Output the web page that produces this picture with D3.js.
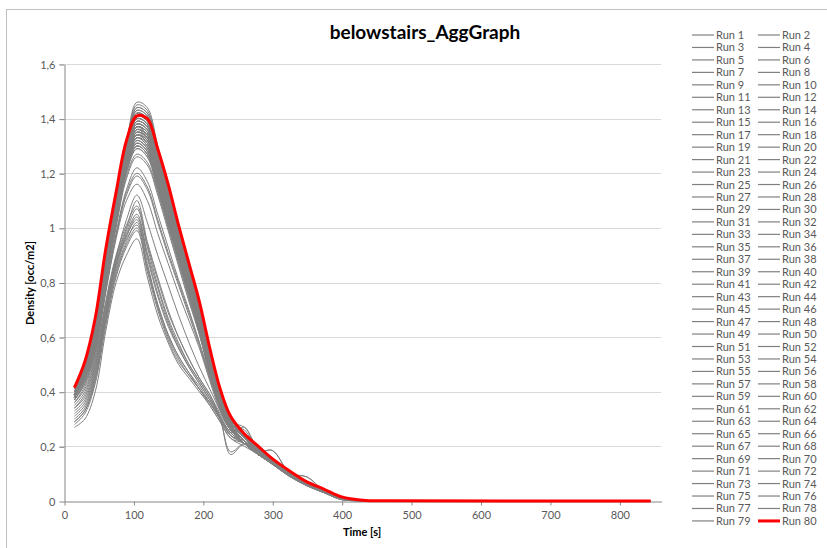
<!DOCTYPE html>
<html>
<head>
<meta charset="utf-8">
<script src="https://cdn.jsdelivr.net/npm/d3@7/dist/d3.min.js"></script>
<style>
html,body{margin:0;padding:0;background:#fff;}
svg{display:block;}
text{font-family:Lato,"Open Sans",sans-serif;}
</style>
</head>
<body>
<svg id="chart" width="827" height="548"></svg>
<script>
// ---- data ----
const chartTitle = "belowstairs_AggGraph";
const xTitle = "Time [s]";
const yTitle = "Density [occ/m2]";
const xTicks = [0,100,200,300,400,500,600,700,800];
const yTicks = [0,0.2,0.4,0.6,0.8,1,1.2,1.4,1.6];
const yTickLabels = ["0","0,2","0,4","0,6","0,8","1","1,2","1,4","1,6"];
const times = [15,30,45,60,75,90,105,120,135,150,165,180,195,210,225,240,260,280,300,325,350,375,400,430,470,845];
const runNames = d3.range(1,81).map(i => "Run " + i);
// Runs 1..79 (gray)
const grayRuns = [
[.40,.48,.62,.86,1.07,1.27,1.38,1.36,1.24,1.10,.96,.82,.68,.52,.38,.29,.23,.19,.15,.10,.066,.038,.010,.002,0,0],
[.39,.47,.60,.84,1.05,1.25,1.36,1.33,1.20,1.07,.93,.79,.66,.50,.37,.28,.22,.18,.15,.10,.064,.036,.009,.002,0,0],
[.41,.49,.63,.88,1.09,1.29,1.41,1.39,1.26,1.12,.98,.84,.70,.53,.39,.30,.24,.19,.155,.105,.068,.040,.012,.002,0,0],
[.38,.46,.58,.82,1.03,1.22,1.32,1.29,1.17,1.04,.90,.77,.64,.49,.36,.27,.22,.18,.145,.098,.062,.035,.008,.001,0,0],
[.40,.48,.61,.85,1.06,1.26,1.37,1.35,1.22,1.09,.95,.81,.67,.51,.38,.29,.27,.19,.15,.10,.065,.037,.010,.002,0,0],
[.39,.46,.59,.83,1.04,1.24,1.34,1.31,1.19,1.05,.91,.78,.65,.49,.36,.28,.22,.18,.185,.10,.063,.036,.009,.001,0,0],
[.41,.50,.64,.89,1.10,1.30,1.44,1.42,1.28,1.13,.99,.85,.71,.54,.40,.30,.24,.195,.155,.105,.07,.041,.013,.003,0,0],
[.40,.47,.60,.84,1.05,1.24,1.33,1.30,1.18,1.05,.92,.79,.66,.50,.37,.28,.23,.18,.15,.10,.088,.037,.009,.002,0,0],
[.38,.45,.57,.80,1.01,1.20,1.29,1.26,1.14,1.01,.88,.75,.62,.47,.35,.26,.21,.17,.14,.095,.06,.034,.008,.001,0,0],
[.40,.48,.62,.87,1.08,1.28,1.40,1.38,1.25,1.11,.97,.83,.69,.52,.39,.29,.235,.19,.152,.102,.066,.039,.011,.002,0,0],
[.29,.33,.45,.66,.84,.95,1.02,.87,.72,.61,.53,.47,.41,.36,.30,.24,.22,.18,.14,.095,.06,.032,.006,.001,0,0],
[.39,.47,.60,.85,1.06,1.25,1.35,1.33,1.21,1.08,.94,.80,.67,.51,.37,.28,.22,.18,.15,.10,.064,.036,.009,.002,0,0],
[.40,.49,.63,.87,1.08,1.28,1.42,1.40,1.27,1.12,.98,.84,.70,.53,.39,.30,.24,.19,.155,.104,.067,.039,.012,.002,0,0],
[.37,.44,.56,.79,1.00,1.18,1.26,1.23,1.12,.99,.86,.73,.61,.46,.34,.26,.21,.17,.14,.093,.058,.033,.007,.001,0,0],
[.41,.49,.62,.87,1.08,1.28,1.39,1.37,1.24,1.10,.96,.82,.68,.52,.38,.29,.23,.19,.15,.10,.065,.038,.010,.002,0,0],
[.34,.38,.50,.70,.88,.99,1.07,.93,.79,.67,.58,.50,.44,.38,.31,.25,.21,.17,.135,.09,.058,.03,.005,.001,0,0],
[.39,.47,.61,.85,1.06,1.26,1.37,1.34,1.22,1.08,.94,.80,.67,.51,.37,.29,.23,.18,.15,.10,.064,.037,.009,.002,0,0],
[.40,.48,.60,.84,1.05,1.25,1.35,1.33,1.20,1.06,.93,.79,.66,.50,.37,.28,.22,.18,.145,.098,.062,.036,.009,.001,0,0],
[.38,.46,.59,.82,1.03,1.23,1.31,1.28,1.16,1.03,.90,.77,.64,.48,.36,.27,.22,.175,.145,.097,.061,.035,.008,.001,0,0],
[.41,.50,.64,.89,1.10,1.31,1.45,1.43,1.29,1.14,1.00,.85,.71,.54,.40,.30,.24,.195,.158,.106,.069,.041,.013,.003,0,0],
[.27,.30,.40,.62,.80,.90,.96,.82,.68,.58,.50,.45,.40,.35,.29,.23,.20,.17,.135,.09,.055,.03,.005,.001,0,0],
[.40,.48,.62,.86,1.07,1.27,1.38,1.36,1.23,1.09,.95,.81,.68,.52,.38,.29,.23,.19,.15,.10,.065,.037,.010,.002,0,0],
[.39,.46,.59,.83,1.04,1.23,1.33,1.31,1.19,1.06,.92,.78,.65,.49,.36,.28,.22,.18,.145,.098,.062,.035,.009,.001,0,0],
[.40,.48,.61,.86,1.07,1.26,1.37,1.35,1.22,1.08,.94,.80,.67,.51,.38,.29,.23,.185,.15,.10,.064,.037,.010,.002,0,0],
[.38,.45,.58,.81,1.02,1.21,1.30,1.27,1.15,1.02,.89,.76,.63,.48,.35,.27,.21,.17,.14,.095,.06,.034,.008,.001,0,0],
[.37,.43,.55,.77,.97,1.12,1.19,1.14,1.02,.90,.79,.68,.57,.45,.34,.26,.21,.17,.14,.093,.058,.033,.007,.001,0,0],
[.41,.49,.63,.88,1.09,1.29,1.42,1.40,1.26,1.12,.98,.83,.69,.53,.39,.30,.24,.19,.155,.104,.068,.040,.012,.002,0,0],
[.40,.47,.60,.85,1.06,1.25,1.36,1.34,1.21,1.07,.93,.80,.66,.50,.37,.28,.22,.18,.15,.10,.063,.036,.009,.002,0,0],
[.31,.35,.47,.68,.86,.97,1.04,.90,.76,.65,.56,.49,.43,.37,.30,.18,.21,.17,.14,.092,.057,.031,.006,.001,0,0],
[.39,.47,.60,.84,1.05,1.24,1.34,1.32,1.19,1.06,.92,.79,.65,.50,.37,.28,.22,.18,.148,.099,.063,.036,.009,.001,0,0],
[.40,.49,.62,.87,1.08,1.27,1.39,1.37,1.24,1.10,.96,.82,.68,.52,.38,.29,.235,.19,.152,.102,.066,.038,.011,.002,0,0],
[.38,.46,.58,.81,1.02,1.21,1.29,1.26,1.14,1.01,.88,.75,.62,.47,.35,.27,.21,.17,.14,.094,.06,.034,.008,.001,0,0],
[.41,.50,.64,.88,1.09,1.30,1.43,1.41,1.27,1.13,.99,.84,.70,.54,.40,.30,.24,.195,.156,.105,.068,.040,.012,.003,0,0],
[.39,.47,.60,.84,1.05,1.24,1.35,1.32,1.20,1.06,.92,.79,.66,.50,.37,.28,.26,.18,.15,.10,.063,.036,.009,.002,0,0],
[.35,.40,.52,.72,.89,1.00,1.10,.95,.82,.70,.60,.52,.45,.39,.32,.26,.22,.17,.14,.092,.058,.032,.006,.001,0,0],
[.40,.48,.61,.86,1.07,1.27,1.38,1.36,1.23,1.09,.95,.81,.67,.51,.38,.29,.23,.19,.15,.10,.065,.037,.010,.002,0,0],
[.38,.46,.59,.83,1.04,1.23,1.32,1.29,1.17,1.04,.91,.77,.64,.49,.36,.27,.22,.18,.145,.097,.061,.035,.008,.001,0,0],
[.40,.48,.62,.87,1.08,1.28,1.40,1.38,1.25,1.11,.97,.83,.69,.52,.39,.29,.235,.19,.153,.103,.067,.039,.011,.002,0,0],
[.36,.42,.54,.76,.96,1.10,1.16,1.10,.98,.87,.76,.66,.56,.44,.33,.26,.21,.17,.14,.094,.059,.033,.007,.001,0,0],
[.39,.47,.60,.85,1.06,1.25,1.36,1.33,1.21,1.07,.93,.80,.66,.50,.37,.28,.22,.18,.15,.10,.064,.036,.009,.002,0,0],
[.41,.49,.63,.88,1.09,1.29,1.41,1.39,1.26,1.12,.98,.84,.70,.53,.39,.30,.24,.19,.155,.105,.068,.040,.012,.002,0,0],
[.30,.34,.46,.67,.85,.96,1.01,.86,.71,.60,.52,.46,.41,.35,.29,.23,.21,.17,.14,.092,.057,.031,.006,.001,0,0],
[.40,.48,.61,.85,1.06,1.26,1.36,1.34,1.21,1.08,.94,.80,.67,.51,.37,.29,.23,.18,.15,.10,.064,.037,.009,.002,0,0],
[.38,.45,.58,.81,1.02,1.21,1.31,1.28,1.16,1.03,.89,.76,.63,.48,.35,.27,.21,.17,.14,.095,.06,.034,.008,.001,0,0],
[.40,.48,.62,.86,1.07,1.27,1.39,1.37,1.24,1.10,.96,.82,.68,.52,.38,.29,.23,.19,.15,.10,.066,.038,.010,.002,0,0],
[.39,.47,.60,.84,1.05,1.25,1.35,1.33,1.20,1.07,.93,.79,.66,.50,.37,.28,.22,.18,.148,.099,.088,.036,.009,.001,0,0],
[.33,.37,.49,.69,.87,.98,1.05,.91,.78,.66,.57,.50,.44,.38,.31,.25,.27,.17,.14,.092,.058,.032,.006,.001,0,0],
[.41,.50,.64,.89,1.10,1.30,1.44,1.42,1.28,1.13,.99,.85,.71,.54,.40,.30,.24,.195,.157,.106,.069,.041,.013,.003,0,0],
[.39,.46,.59,.83,1.04,1.23,1.33,1.30,1.18,1.05,.91,.78,.65,.49,.36,.28,.22,.18,.145,.098,.062,.035,.009,.001,0,0],
[.40,.48,.61,.86,1.07,1.26,1.37,1.35,1.22,1.08,.94,.81,.67,.51,.38,.29,.23,.185,.15,.10,.065,.037,.010,.002,0,0],
[.37,.44,.56,.78,.98,1.14,1.22,1.17,1.05,.93,.81,.70,.58,.46,.34,.26,.21,.17,.14,.094,.059,.033,.007,.001,0,0],
[.38,.46,.58,.82,1.03,1.22,1.30,1.27,1.15,1.02,.89,.76,.63,.48,.35,.27,.21,.17,.14,.095,.06,.034,.008,.001,0,0],
[.40,.49,.63,.87,1.08,1.28,1.41,1.39,1.26,1.11,.97,.83,.69,.53,.39,.29,.235,.19,.154,.104,.067,.039,.011,.002,0,0],
[.39,.47,.60,.84,1.05,1.24,1.34,1.32,1.19,1.06,.92,.79,.65,.50,.37,.28,.22,.18,.185,.10,.063,.036,.009,.001,0,0],
[.28,.32,.43,.64,.82,.93,.99,.84,.70,.59,.51,.46,.41,.36,.30,.24,.21,.17,.135,.09,.056,.03,.005,.001,0,0],
[.40,.48,.62,.86,1.07,1.27,1.38,1.36,1.23,1.09,.95,.81,.68,.52,.38,.29,.23,.19,.15,.10,.065,.037,.010,.002,0,0],
[.41,.49,.63,.88,1.09,1.29,1.42,1.40,1.27,1.12,.98,.84,.70,.53,.39,.30,.24,.19,.155,.105,.068,.040,.012,.002,0,0],
[.38,.45,.57,.80,1.01,1.19,1.27,1.24,1.13,1.00,.87,.74,.61,.47,.34,.26,.21,.17,.14,.094,.059,.034,.008,.001,0,0],
[.39,.47,.61,.85,1.06,1.25,1.36,1.34,1.21,1.07,.93,.80,.66,.50,.37,.28,.22,.18,.15,.10,.064,.036,.009,.002,0,0],
[.40,.48,.61,.85,1.06,1.26,1.37,1.35,1.22,1.08,.94,.80,.67,.51,.38,.29,.23,.185,.15,.10,.065,.037,.010,.002,0,0],
[.32,.36,.48,.69,.87,.97,1.03,.89,.75,.64,.56,.49,.43,.37,.30,.17,.21,.17,.14,.092,.057,.031,.006,.001,0,0],
[.39,.46,.59,.83,1.04,1.24,1.34,1.31,1.19,1.05,.92,.78,.65,.49,.36,.28,.22,.18,.146,.098,.062,.035,.009,.001,0,0],
[.41,.50,.64,.89,1.10,1.30,1.43,1.41,1.28,1.13,.99,.85,.70,.54,.40,.30,.24,.195,.156,.105,.068,.040,.012,.003,0,0],
[.38,.46,.59,.82,1.03,1.22,1.31,1.28,1.16,1.03,.90,.77,.64,.48,.36,.27,.22,.175,.145,.097,.061,.035,.008,.001,0,0],
[.37,.43,.55,.77,.97,1.13,1.20,1.15,1.03,.91,.80,.69,.58,.45,.34,.26,.21,.17,.14,.093,.058,.033,.007,.001,0,0],
[.40,.48,.62,.86,1.07,1.27,1.39,1.37,1.24,1.10,.96,.82,.68,.52,.38,.29,.23,.19,.15,.10,.066,.038,.010,.002,0,0],
[.39,.47,.60,.84,1.05,1.25,1.35,1.33,1.20,1.06,.93,.79,.66,.50,.37,.28,.22,.18,.148,.099,.063,.036,.009,.001,0,0],
[.36,.41,.53,.73,.90,1.01,1.08,.94,.81,.69,.60,.52,.45,.39,.31,.25,.21,.17,.14,.092,.058,.032,.006,.001,0,0],
[.40,.49,.62,.87,1.08,1.28,1.40,1.38,1.25,1.11,.97,.83,.69,.52,.39,.29,.235,.19,.153,.103,.067,.039,.011,.002,0,0],
[.38,.45,.58,.81,1.02,1.21,1.30,1.27,1.15,1.02,.89,.76,.63,.48,.35,.27,.21,.17,.14,.095,.06,.034,.008,.001,0,0],
[.41,.50,.64,.89,1.10,1.31,1.46,1.44,1.30,1.14,1.00,.85,.71,.54,.40,.30,.24,.195,.158,.106,.069,.041,.013,.003,0,0],
[.39,.47,.60,.84,1.05,1.24,1.34,1.32,1.19,1.06,.92,.79,.65,.50,.37,.28,.22,.18,.148,.099,.063,.036,.009,.001,0,0],
[.40,.48,.61,.85,1.06,1.26,1.37,1.35,1.22,1.08,.94,.80,.67,.51,.38,.29,.23,.185,.15,.10,.065,.037,.010,.002,0,0],
[.29,.33,.44,.65,.83,.94,1.00,.85,.72,.61,.53,.47,.42,.36,.30,.24,.21,.17,.135,.09,.056,.03,.005,.001,0,0],
[.39,.46,.59,.83,1.04,1.23,1.33,1.30,1.18,1.05,.91,.78,.65,.49,.36,.28,.22,.18,.145,.098,.062,.035,.009,.001,0,0],
[.40,.48,.62,.87,1.08,1.28,1.40,1.38,1.25,1.11,.97,.83,.69,.52,.39,.29,.235,.19,.152,.102,.066,.039,.011,.002,0,0],
[.38,.46,.58,.82,1.03,1.22,1.32,1.29,1.17,1.04,.90,.77,.64,.49,.36,.27,.22,.18,.145,.098,.062,.035,.008,.001,0,0],
[.41,.49,.63,.88,1.09,1.29,1.42,1.40,1.26,1.12,.98,.84,.70,.53,.39,.30,.24,.19,.155,.104,.068,.040,.012,.002,0,0],
[.34,.39,.51,.71,.89,1.03,1.12,1.02,.90,.79,.68,.58,.49,.41,.33,.26,.21,.17,.14,.093,.058,.033,.007,.001,0,0]
];
// Run 80 (red)
const redRun = [.415,.51,.67,.92,1.13,1.32,1.41,1.40,1.29,1.16,1.01,.87,.73,.56,.41,.31,.245,.20,.155,.11,.07,.043,.015,.003,.001,0];

// ---- drawing ----
const svg = d3.select("#chart");
const x = d3.scaleLinear().domain([0, 860]).range([64, 661]);
const y = d3.scaleLinear().domain([0, 1.6]).range([501, 64]);

// chart frame
svg.append("rect").attr("x",6.5).attr("y",9.5).attr("width",900).attr("height",700)
  .attr("fill","none").attr("stroke","#c0c0c0").attr("stroke-width",1);

// gridlines
svg.append("g").selectAll("line").data(yTicks.filter(v=>v>0)).join("line")
  .attr("x1",x(0)-5).attr("x2",x(860))
  .attr("y1",d=>Math.round(y(d))+0.5).attr("y2",d=>Math.round(y(d))+0.5)
  .attr("stroke","#d9d9d9").attr("stroke-width",1);

// y axis
const yAxis = d3.axisLeft(y).tickValues(yTicks).tickFormat((d,i)=>yTickLabels[i]).tickSize(5).tickSizeOuter(0).tickPadding(4);
const gy = svg.append("g").attr("transform","translate(64.5,0.5)").call(yAxis);
gy.select(".domain").attr("stroke","#868686");
gy.selectAll(".tick line").attr("stroke","#868686");
gy.selectAll("text").attr("fill","#595959").style("font-size","11px").style("font-family","Lato, sans-serif");

// x axis
const xAxis = d3.axisBottom(x).tickValues(xTicks).tickSize(4).tickSizeOuter(0).tickPadding(6);
const gx = svg.append("g").attr("transform","translate(0.5,501.5)").call(xAxis);
gx.select(".domain").attr("stroke","#868686");
gx.selectAll(".tick line").attr("stroke","#868686");
gx.selectAll("text").attr("fill","#595959").style("font-size","11px").style("font-family","Lato, sans-serif");

// lines
const line = d3.line().x((d,i)=>x(times[i])).y(d=>y(Math.max(0,d))).curve(d3.curveCatmullRom.alpha(0.5));
svg.append("g").selectAll("path").data(grayRuns).join("path")
  .attr("d", line).attr("fill","none").attr("stroke","#808080").attr("stroke-width",1);
svg.append("path").datum(redRun).attr("d", line).attr("fill","none")
  .attr("stroke","#ff0000").attr("stroke-width",3).attr("stroke-linejoin","round");

// titles
svg.append("text").attr("x",425).attr("y",39).attr("text-anchor","middle")
  .style("font-size","19px").style("font-weight","bold").attr("fill","#000").text(chartTitle);
svg.append("text").attr("x",362).attr("y",536).attr("text-anchor","middle")
  .style("font-size","11px").style("font-weight","bold").attr("fill","#000").text(xTitle);
svg.append("text").attr("transform","translate(34,283) rotate(-90)").attr("text-anchor","middle")
  .style("font-size","11px").style("font-weight","bold").attr("fill","#000").text(yTitle);

// legend
const legend = svg.append("g");
const items = runNames.map((name,i)=>({name, i, col: i%2, row: Math.floor(i/2)}));
const lg = legend.selectAll("g").data(items).join("g")
  .attr("transform", d=>`translate(${d.col===0?692:758},${35+d.row*12.46})`);
lg.append("line").attr("x1",0).attr("x2",22).attr("y1",0).attr("y2",0)
  .attr("stroke", d=>d.i===79?"#ff0000":"#808080").attr("stroke-width", d=>d.i===79?3:1.2);
lg.append("text").attr("x",24).attr("y",4).style("font-size","11px").attr("fill","#595959").text(d=>d.name);
</script>
</body>
</html>
